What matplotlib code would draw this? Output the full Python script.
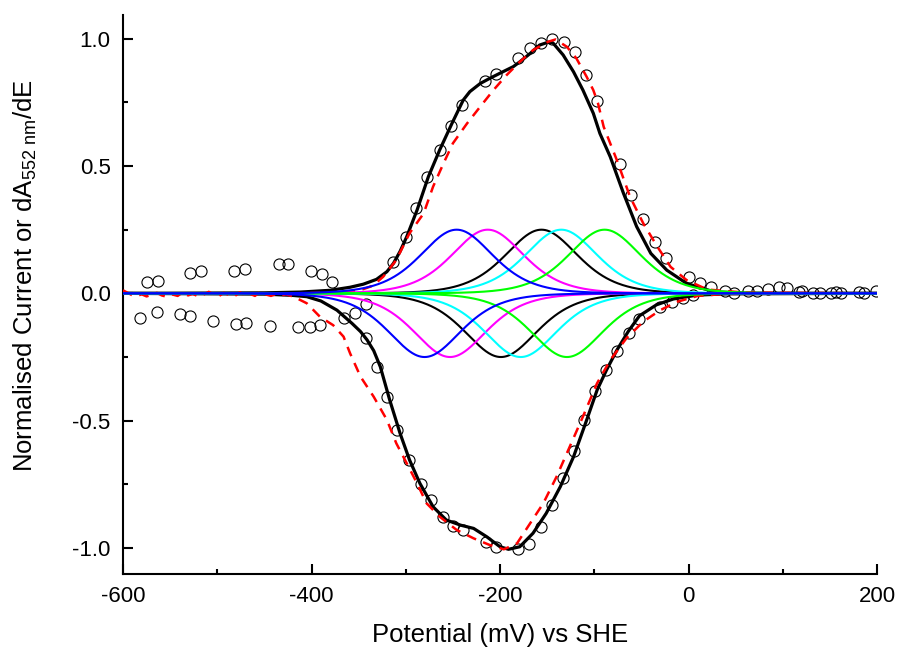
import numpy as np
import matplotlib
matplotlib.use("Agg")
import matplotlib.pyplot as plt
from matplotlib.ticker import MultipleLocator

plt.rcParams['font.family'] = ['Liberation Sans', 'DejaVu Sans']
plt.rcParams['mathtext.fontset'] = 'custom'
plt.rcParams['mathtext.rm'] = 'Liberation Sans'
plt.rcParams['mathtext.it'] = 'Liberation Sans:italic'

# ---- n = 1 component peaks (midpoint potentials, mV vs SHE) ----
ox_centres = [-246, -213, -156, -135, -89]
red_centres = [-280, -253, -199, -178, -129]
component_height = 0.25
component_colors = ['#0000ff', '#ff00ff', '#000000', '#00ffff', '#00ff00']

# ---- total fit, oxidative sweep ----
fit_ox_E = [-600, -450, -412, -380, -359, -345, -331, -320, -313, -306, -299,
            -288, -276, -264, -251, -239, -232, -221, -211, -197, -186, -179,
            -168, -158, -149, -144, -133, -122, -112, -101, -94, -83, -69,
            -55, -40, -23, -2, 27, 60, 200]
fit_ox_y = [0.0, 0.002, 0.005, 0.012, 0.024, 0.036, 0.055, 0.085, 0.118, 0.165,
            0.222, 0.327, 0.458, 0.563, 0.667, 0.759, 0.792, 0.824, 0.844,
            0.870, 0.890, 0.909, 0.942, 0.975, 0.986, 0.984, 0.936, 0.870,
            0.798, 0.707, 0.628, 0.536, 0.393, 0.262, 0.157, 0.091, 0.039,
            0.006, 0.001, 0.0]

# ---- total fit, reductive sweep ----
fit_red_E = [-600, -450, -420, -405, -390, -373, -357, -348, -341, -334, -327,
             -317, -306, -296, -285, -271, -257, -242, -228, -214, -200, -191,
             -179, -165, -151, -136, -122, -108, -97, -87, -76, -64, -52, -34,
             -16, 9, 40, 200]
fit_red_y = [0.0, -0.003, -0.008, -0.013, -0.030, -0.066, -0.118, -0.150,
             -0.183, -0.225, -0.288, -0.419, -0.550, -0.654, -0.746, -0.838,
             -0.890, -0.910, -0.923, -0.956, -0.995, -1.005, -0.995, -0.942,
             -0.864, -0.759, -0.642, -0.497, -0.380, -0.301, -0.223, -0.150,
             -0.088, -0.045, -0.022, -0.007, -0.002, 0.0]

# ---- dA552/dE, oxidative direction ----
abs_ox_E = [-420, -380, -350, -335, -324, -310, -296, -281, -271, -260, -250,
            -235, -221, -207, -193, -179, -165, -149, -141, -129, -119, -108,
            -101, -96, -90, -76, -62, -48, -33, -19, -2, 20, 60, 200]
abs_ox_y = [0.0, 0.003, 0.010, 0.030, 0.065, 0.131, 0.236, 0.314, 0.419,
            0.510, 0.589, 0.667, 0.733, 0.798, 0.857, 0.909, 0.955, 0.988,
            0.997, 0.968, 0.923, 0.850, 0.798, 0.746, 0.654, 0.523, 0.379,
            0.275, 0.183, 0.104, 0.052, 0.015, 0.003, 0.0]

# ---- dA552/dE, reductive direction (includes the noisy baseline) ----
abs_red_E = [-600, -596, -591, -586, -580, -575, -570, -564, -559, -553, -548,
             -542, -537, -531, -526, -520, -515, -509, -504, -498, -493, -487,
             -482, -476, -471, -465, -460, -454, -449, -443, -438, -432, -427,
             -419, -405, -391, -377, -366, -359, -348, -334, -320, -310, -299,
             -288, -278, -264, -246, -228, -211, -196, -182, -168, -154, -140,
             -126, -112, -97, -83, -66, -48, -30, -12, 10, 40, 200]
abs_red_y = [0.012, 0.004, -0.006, -0.010, -0.004, -0.012, -0.006, 0.002,
             -0.008, -0.014, -0.004, -0.010, 0.003, -0.008, -0.002, -0.012,
             -0.006, 0.006, -0.004, -0.010, 0.002, -0.007, -0.012, 0.004,
             -0.006, -0.002, -0.010, 0.008, -0.004, -0.010, -0.003, -0.008,
             -0.004, -0.013, -0.039, -0.092, -0.125, -0.170, -0.236, -0.327,
             -0.406, -0.497, -0.589, -0.667, -0.746, -0.824, -0.877, -0.929,
             -0.962, -0.988, -1.005, -0.982, -0.903, -0.824, -0.720, -0.602,
             -0.484, -0.353, -0.262, -0.177, -0.111, -0.066, -0.033, -0.010,
             -0.002, 0.0]

# ---- normalised film voltammetry current (open circles) ----
cv_ox_E = [-575, -563, -529, -517, -482, -471, -435, -425, -401, -389, -378,
           -313, -300, -289, -277, -264, -252, -240, -216, -204, -181, -168,
           -157, -145, -132, -120, -109, -97, -73, -61, -48, -36, -24, 0, 12,
           24, 39, 48, 63, 73, 84, 96, 104, 117, 120, 132, 139, 151, 156, 162,
           181, 186, 199]
cv_ox_y = [0.043, 0.049, 0.081, 0.089, 0.089, 0.095, 0.115, 0.115, 0.089,
           0.076, 0.043, 0.124, 0.220, 0.334, 0.455, 0.563, 0.657, 0.739,
           0.835, 0.861, 0.923, 0.962, 0.984, 1.000, 0.988, 0.949, 0.857,
           0.755, 0.506, 0.386, 0.290, 0.201, 0.140, 0.065, 0.042, 0.024,
           0.010, 0.002, 0.010, 0.010, 0.016, 0.024, 0.020, 0.006, 0.010,
           0.002, 0.002, 0.000, 0.006, 0.000, 0.006, 0.002, 0.010]
cv_red_E = [-582, -564, -540, -529, -504, -480, -469, -444, -414, -402, -391,
            -366, -354, -342, -342, -331, -320, -309, -297, -284, -273, -261,
            -250, -239, -215, -204, -181, -169, -157, -145, -133, -122, -111,
            -99, -88, -76, -63, -53, -30, -18, -6, 5]
cv_red_y = [-0.096, -0.072, -0.081, -0.089, -0.109, -0.122, -0.118, -0.128,
            -0.131, -0.131, -0.124, -0.098, -0.076, -0.042, -0.177, -0.288,
            -0.408, -0.537, -0.654, -0.749, -0.812, -0.877, -0.914, -0.929,
            -0.975, -0.997, -1.005, -0.984, -0.916, -0.831, -0.726, -0.618,
            -0.497, -0.384, -0.301, -0.227, -0.157, -0.102, -0.053, -0.033,
            -0.018, -0.007]

F_RT = 1.0 / 25.69  # F/RT at 25 C, per mV


def nernst_peak(E, E0, h):
    x = np.exp(F_RT * (E - E0))
    return 4.0 * h * x / (1.0 + x) ** 2


fig = plt.figure(figsize=(8.97, 6.48), dpi=100)
ax = fig.add_axes([123 / 897, (648 - 574) / 648, (877 - 123) / 897, (574 - 15) / 648])

ax.plot(cv_ox_E + cv_red_E, cv_ox_y + cv_red_y, linestyle='none', marker='o',
        markersize=8, markerfacecolor='none', markeredgecolor='black',
        markeredgewidth=0.8, zorder=2)

ax.plot(fit_ox_E, fit_ox_y, color='black', lw=2.3, zorder=3)
ax.plot(fit_red_E, fit_red_y, color='black', lw=2.3, zorder=3)

ax.plot(abs_ox_E, abs_ox_y, color='#ff0000', lw=1.8, ls=(0, (4, 3)), zorder=4)
ax.plot(abs_red_E, abs_red_y, color='#ff0000', lw=1.8, ls=(0, (4, 3)), zorder=4)

E_axis = np.linspace(-600, 200, 801)
order = [2, 1, 3, 4, 0]
for i in order:
    c = component_colors[i]
    ax.plot(E_axis, nernst_peak(E_axis, ox_centres[i], component_height),
            color=c, lw=1.5, zorder=5 + (i == 0))
    ax.plot(E_axis, -nernst_peak(E_axis, red_centres[i], component_height),
            color=c, lw=1.5, zorder=5 + (i == 0))

ax.set_xlim(-600, 200)
ax.set_ylim(-1.102, 1.093)
ax.xaxis.set_major_locator(MultipleLocator(200))
ax.xaxis.set_minor_locator(MultipleLocator(100))
ax.yaxis.set_major_locator(MultipleLocator(0.5))
ax.yaxis.set_minor_locator(MultipleLocator(0.25))
ax.set_xticks([-600, -400, -200, 0, 200])
ax.set_xticklabels(['-600', '-400', '-200', '0', '200'])
ax.set_yticks([-1.0, -0.5, 0.0, 0.5, 1.0])
ax.set_yticklabels(['-1.0', '-0.5', '0.0', '0.5', '1.0'])

for s in ['top', 'right']:
    ax.spines[s].set_visible(False)
for s in ['left', 'bottom']:
    ax.spines[s].set_linewidth(1.5)

ax.tick_params(which='major', direction='in', length=7, width=1.5,
               labelsize=16, pad=9)
ax.tick_params(which='minor', direction='in', length=3.5, width=1.5)

ax.set_xlabel('Potential (mV) vs SHE', fontsize=18.5, labelpad=11)
ax.set_ylabel(r'Normalised Current or dA$_{\mathrm{552\ nm}}$/dE',
              fontsize=18.5)
ax.yaxis.set_label_coords(-0.112, 0.533)

fig.savefig('out.png', dpi=100)
